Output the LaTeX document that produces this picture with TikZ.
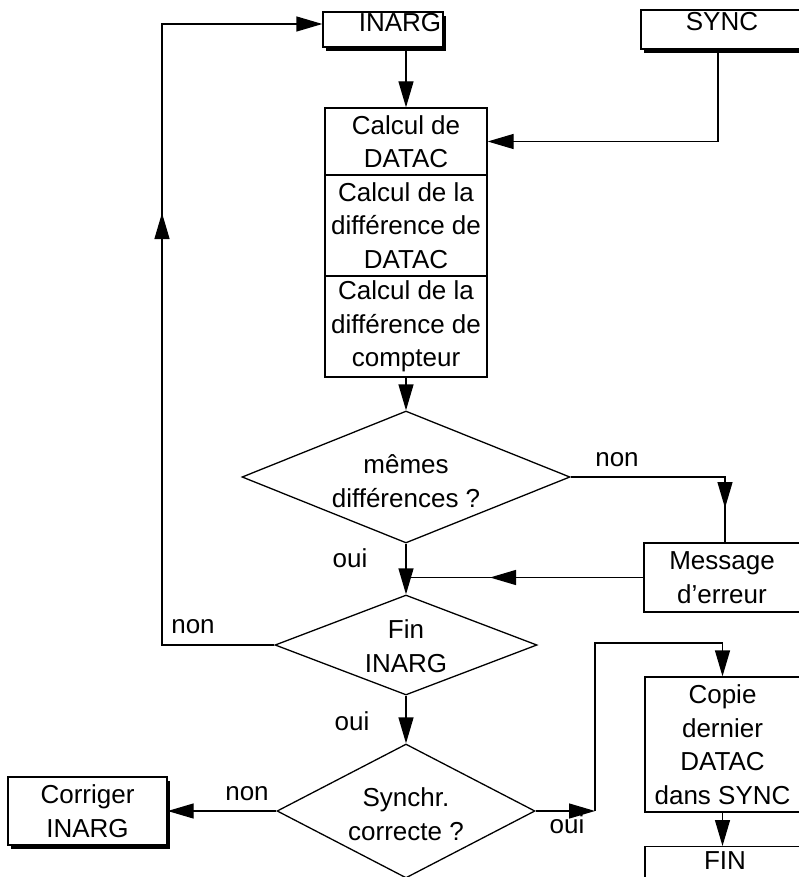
\documentclass[tikz,border=0pt]{standalone}
\usepackage{fontspec}
\setmainfont{Liberation Sans}
\usetikzlibrary{arrows.meta,shapes.geometric,shadows,calc}
\begin{document}
\begin{tikzpicture}[x=1pt,y=-1pt,
  every node/.style={font=\fontsize{26}{33.5}\selectfont},
  box/.style={draw, fill=white, line width=1.3pt, inner sep=0pt, align=center},
  shbox/.style={box, drop shadow={shadow xshift=3pt, shadow yshift=-4pt, fill=black, opacity=1}},
  dia/.style={draw, diamond, line width=1.3pt, inner sep=0pt},
  conn/.style={line width=1.3pt},
  arr/.style={-{Triangle[length=26pt,width=15pt]}},
  lbl/.style={anchor=base}]
\useasboundingbox (0,0) rectangle (799,877);
% boxes
\node[shbox, minimum width=120pt, minimum height=35pt] (inarg) at (383,29.5) {};
\node[lbl] (inargt) at (400,32) {INARG};
\node[shbox, minimum width=162pt, minimum height=39pt] (sync) at (722,29.5) {};
\node[lbl] (synct) at (722,31) {SYNC};
\node[box, minimum width=162pt, minimum height=67pt] (b1) at (406,141.5) {Calcul de\\DATAC};
\node[box, minimum width=162pt, minimum height=101pt] (b2) at (406,225.5) {Calcul de la\\différence de\\DATAC};
\node[box, minimum width=162pt, minimum height=101pt] (b3) at (406,326.5) {Calcul de la\\différence de\\compteur};
\node[box, minimum width=156pt, minimum height=69pt] (msg) at (722,577.5) {Message\\d'erreur};
\node[box, minimum width=155pt, minimum height=135pt] (copie) at (722.5,744.5) {Copie\\dernier\\DATAC\\dans SYNC};
\node[box, minimum width=155pt, minimum height=60pt, anchor=north] (fin) at (722.5,846) {};
\node[lbl] (fint) at (725,869) {FIN};
\node[shbox, minimum width=159pt, minimum height=68pt] (corr) at (87.5,811) {Corriger\\INARG};
% diamonds
\node[dia, minimum width=328pt, minimum height=132pt] (d1) at (406,477) {};
\node[align=center] (d1t) at (406,481) {mêmes\\différences ?};
\node[dia, minimum width=262pt, minimum height=100pt] (d2) at (406,645) {};
\node[align=center] (d2t) at (406,646) {Fin\\INARG};
\node[dia, minimum width=258pt, minimum height=134pt] (d3) at (406,811) {};
\node[align=center] (d3t) at (406,814) {Synchr.\\correcte ?};
% labels
\node[lbl] (non1) at (617,466) {non};
\node[lbl] (oui1) at (350,567) {oui};
\node[lbl] (non2) at (193,633) {non};
\node[lbl] (oui2) at (352,730) {oui};
\node[lbl] (non3) at (247,800) {non};
\node[lbl] (oui3) at (567,833) {oui};
% connectors
\coordinate (c1) at (718,141.5);
\draw[conn,arr] (sync.south -| c1) -- (c1) -- (b1.east);
\draw[conn,arr] (inarg.south -| b1.north) -- (b1.north);
\draw[conn,arr] (b3.south) -- (d1.north);
\coordinate (c2) at (725,477);
\coordinate (c2t) at (725,508);
\draw[conn] (d1.east) -- (c2) -- (c2 |- msg.north);
\draw[conn,arr] (c2) -- (c2t);
\draw[conn,arr] (d1.south) -- (d2.north);
\coordinate (c3) at (490,577.5);
\draw[conn] (msg.west) -- (msg.west -| d1.south);
\draw[conn,arr] (msg.west) -- (c3);
\coordinate (c4) at (162,645);
\coordinate (c5) at (162,24);
\draw[conn,arr] (d2.west) -- (c4) -- (c5) -- (inarg.west |- c5);
\coordinate (c6) at (162,250);
\coordinate (c6t) at (162,213);
\draw[conn,arr] (c6) -- (c6t);
\draw[conn,arr] (d2.south) -- (d3.north);
\draw[conn,arr] (d3.west) -- (corr.east);
\coordinate (c7) at (595,811);
\coordinate (c8) at (595,643);
\draw[conn,arr] (d3.east) -- (c7);
\draw[conn,arr] (c7) -- (c8) -- (c8 -| copie.north) -- (copie.north);
\draw[conn,arr] (copie.south) -- (fin.north);
\end{tikzpicture}
\end{document}
